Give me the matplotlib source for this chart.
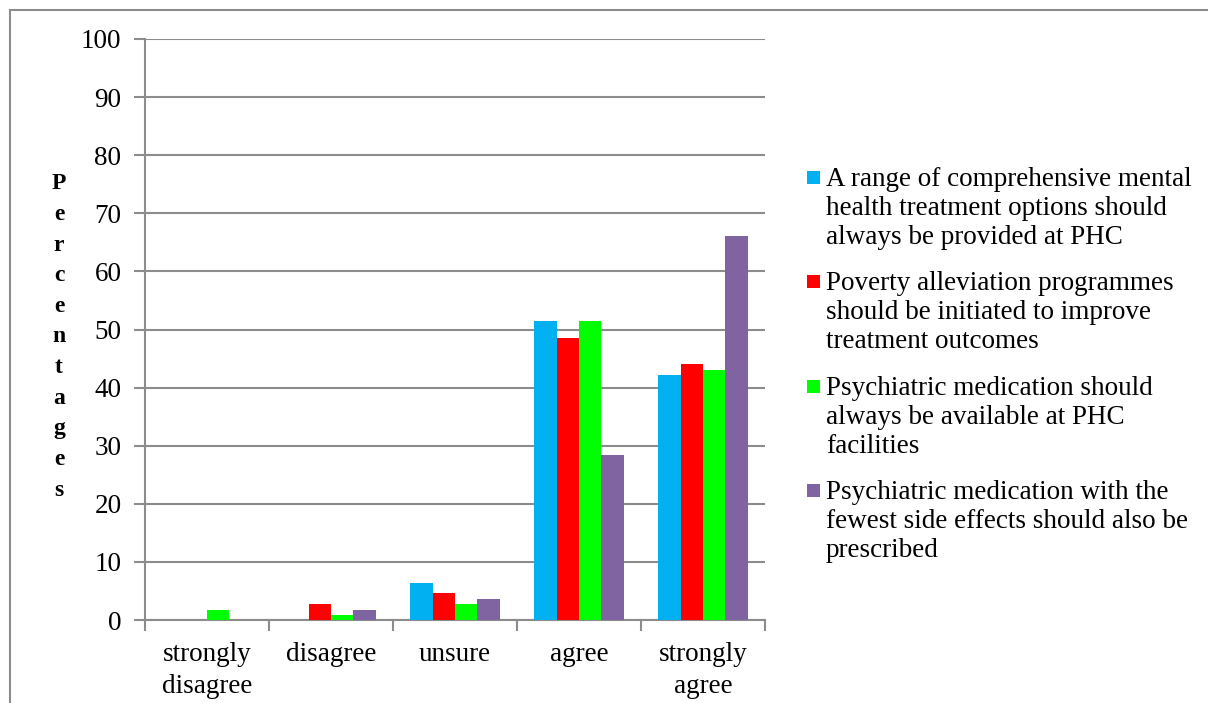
import numpy as np
import matplotlib
matplotlib.use("Agg")
import matplotlib.pyplot as plt
from matplotlib.patches import Rectangle

plt.rcParams['font.family'] = ['Liberation Serif', 'DejaVu Serif']

categories = ['strongly\ndisagree', 'disagree', 'unsure', 'agree', 'strongly\nagree']
series_labels = [
    'A range of comprehensive mental\nhealth treatment options should\nalways be provided at PHC',
    'Poverty alleviation programmes\nshould be initiated to improve\ntreatment outcomes',
    'Psychiatric medication should\nalways be available at PHC\nfacilities',
    'Psychiatric medication with the\nfewest side effects should also be\nprescribed',
]
treatment_options = [0.0, 0.0, 6.4, 51.4, 42.2]
poverty_programmes = [0.0, 2.8, 4.6, 48.6, 44.0]
medication_available = [1.8, 0.9, 2.8, 51.4, 43.1]
fewest_side_effects = [0.0, 1.8, 3.7, 28.4, 66.1]
colors = ['#00B0F0', '#FF0000', '#00FF00', '#8064A2']

series = [treatment_options, poverty_programmes, medication_available, fewest_side_effects]

fig = plt.figure(figsize=(12.08, 7.03), dpi=100)
ax = fig.add_axes([145 / 1208, 1 - 620 / 703, 620 / 1208, 581 / 703])

x = np.arange(len(categories))
bw = 0.18
for i, (vals, c) in enumerate(zip(series, colors)):
    ax.bar(x + (i - 1.5) * bw, vals, width=bw, color=c, zorder=3)

grid_c = '#8C8C8C'
fs = 19.5
ax.set_ylim(0, 100)
ax.set_xlim(-0.5, len(categories) - 0.5)
ax.set_yticks(np.arange(0, 101, 10))
ax.yaxis.grid(True, color=grid_c, linewidth=1.5, zorder=0)
ax.set_xticks(x)
ax.set_xticklabels(categories, fontsize=fs, linespacing=1.34)
ax.set_xticks(np.arange(-0.5, len(categories)), minor=True)
ax.tick_params(axis='x', which='major', length=0, pad=16)
ax.tick_params(axis='x', which='minor', length=8, width=1.5, color=grid_c, direction='out')
ax.tick_params(axis='y', length=8, width=1.5, color=grid_c, labelsize=fs, pad=9)
for side in ['top', 'right']:
    ax.spines[side].set_visible(False)
for side in ['left', 'bottom']:
    ax.spines[side].set_color(grid_c)
    ax.spines[side].set_linewidth(1.5)

# stacked vertical axis title
fig.text(59 / 1208, 1 - 337 / 703, '\n'.join('Percentages'), ha='center', va='center',
         fontsize=17, fontweight='bold', linespacing=1.6)

# legend
leg_tops = [169, 273, 378, 482]
for lab, c, top in zip(series_labels, colors, leg_tops):
    fig.patches.append(Rectangle((807 / 1208, 1 - (top + 15) / 703), 13 / 1208, 13 / 703,
                                 transform=fig.transFigure, facecolor=c, edgecolor='none'))
    fig.text(826 / 1208, 1 - (top - 2) / 703, lab, ha='left', va='top', fontsize=fs,
             linespacing=1.2)

# outer frame
fig.patches.append(Rectangle((10 / 1208, -0.01), 1.2, 1 - 10 / 703 + 0.01, transform=fig.transFigure,
                             facecolor='none', edgecolor='#8C8C8C', linewidth=1.5))

fig.savefig('out.png', dpi=100)
